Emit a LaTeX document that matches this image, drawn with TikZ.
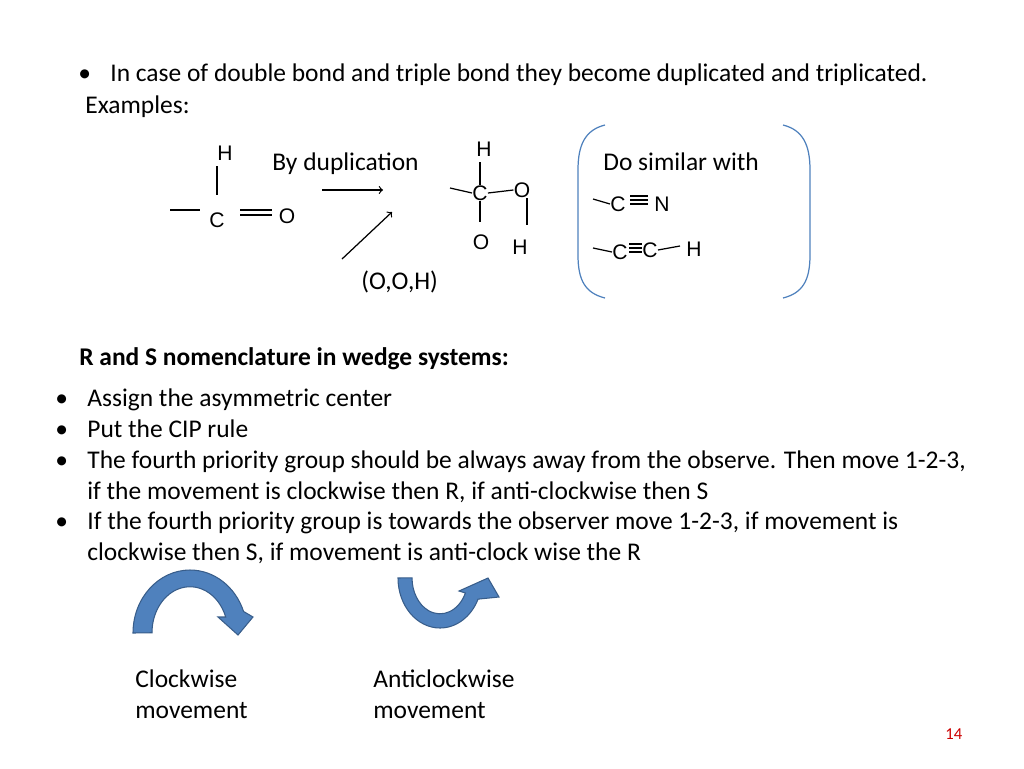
\documentclass[tikz,border=0pt]{standalone}
\usepackage{fontspec}
\setmainfont{Carlito}
\newfontfamily\chemfont{Liberation Sans}
\definecolor{turnfill}{RGB}{79,129,189}
\definecolor{turnedge}{RGB}{56,93,138}
\begin{document}
\begin{tikzpicture}[x=0.02cm,y=-0.02cm,
    txt/.style={anchor=base west,inner sep=0pt,font=\fontsize{14.5}{17}\selectfont},
    atom/.style={inner sep=0pt,font=\chemfont\fontsize{12}{14}\selectfont},
    bond/.style={black,line width=0.7pt},
    brace/.style={draw=turnfill,line width=0.7pt},
    turn/.style={fill=turnfill,draw=turnedge,line width=0.6pt}]
\useasboundingbox (0,0) rectangle (1024,768);
% header
\node[txt] (b0) at (78,81) {\textbullet};
\node[txt] (l0) at (110,81) {In case of double bond and triple bond they become duplicated and triplicated.};
\node[txt] (ex) at (85,113) {Examples:};
% aldehyde
\node[atom] (h1) at (225,153) {H};
\node[atom] (c1) at (217,220) {C};
\node[atom] (o1) at (287,216) {O};
\draw[bond] (217,166) -- (217,195);
\draw[bond] (170,210) -- (200,210);
\draw[bond] (240,210) -- (272,210) (240,215) -- (272,215);
\node[txt] (dup) at (272,170) {By duplication};
\draw[bond,->] (322,190) -- (383,190);
% duplicated form
\node[atom] (h2) at (484,149) {H};
\node[atom] (c2) at (480,193) {C};
\node[atom] (o2) at (522,190) {O};
\node[atom] (o3) at (481,242) {O};
\node[atom] (h3) at (520,247) {H};
\draw[bond] (c2.north) -- (480,162);
\draw[bond] (450,188) -- (c2.west);
\draw[bond] (c2.east) -- (o2.west);
\draw[bond] (c2.south) -- (480,222);
\draw[bond] (527,198) -- (527,225);
\node[txt] (ooh) at (361,289) {(O,O,H)};
\draw[bond,->] (342,259) -- (392,212);
% similar examples
\draw[brace] (605,125) .. controls (585,130) and (578,145) .. (578,170) -- (578,255) .. controls (578,280) and (585,293) .. (605,298);
\draw[brace] (783,125) .. controls (803,130) and (810,145) .. (810,170) -- (810,255) .. controls (810,280) and (803,293) .. (783,298);
\node[txt] (sim) at (603,170) {Do similar with};
\node[atom] (c4) at (618,204) {C};
\node[atom] (n4) at (662,204) {N};
\draw[bond] (593,199) -- (c4.west);
\draw[bond] (630,196) -- (648,196) (630,200) -- (648,200) (630,204) -- (648,204);
\node[atom] (c5) at (620,252) {C};
\node[atom] (c6) at (650,250) {C};
\node[atom] (h6) at (694,249) {H};
\draw[bond] (593,248) -- (c5.west);
\draw[bond] (629,244) -- (642,244) (629,248) -- (642,248) (629,252) -- (642,252);
\draw[bond] (c6.east) -- (680,246);
% R and S
\node[txt,font=\fontsize{14.5}{17}\selectfont\bfseries] (rs) at (79,365) {R and S nomenclature in wedge systems:};
\foreach \y/\t in {406/Assign the asymmetric center,437/Put the CIP rule,468/{The fourth priority group should be always away from the observe. Then move 1-2-3,},529/{If the fourth priority group is towards the observer move 1-2-3, if movement is}}
  {\node[txt] at (55,\y) {\textbullet}; \node[txt] at (87,\y) {\t};}
\node[txt] (l5) at (87,499) {if the movement is clockwise then R, if anti-clockwise then S};
\node[txt] (l7) at (87,560) {clockwise then S, if movement is anti-clock wise the R};
% curved arrows
\draw[turn] (133,633) arc[start angle=180,end angle=340,x radius=57,y radius=63]
  -- (253,617) -- (238,635) -- (218,617) -- (225.7,617)
  arc[start angle=340,end angle=180,x radius=38,y radius=46] -- cycle;
\draw[turn] (398,578) arc[start angle=180,end angle=25,x radius=42,y radius=50]
  -- (499,597) -- (488,578) -- (459,591) -- (465.4,593)
  arc[start angle=25,end angle=180,x radius=28,y radius=36] -- cycle;
\node[txt] (cw) at (135,687) {Clockwise};
\node[txt] (cw2) at (135,718) {movement};
\node[txt] (acw) at (373,687) {Anticlockwise};
\node[txt] (acw2) at (373,718) {movement};
\node[txt,text=red!80!black,font=\fontsize{9.5}{11}\selectfont] (pg) at (945,739) {14};
\end{tikzpicture}
\end{document}
